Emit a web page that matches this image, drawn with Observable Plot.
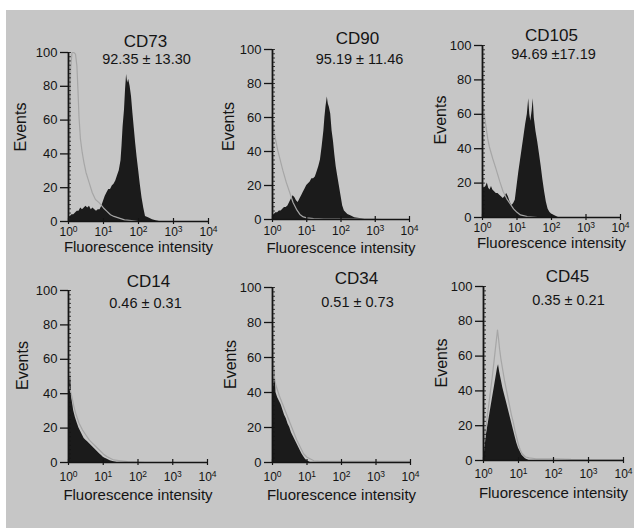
<!DOCTYPE html>
<html><head><meta charset="utf-8">
<script src="https://cdn.jsdelivr.net/npm/d3@7"></script>
<script src="https://cdn.jsdelivr.net/npm/@observablehq/plot@0.6"></script>
<style>
html,body{margin:0;padding:0;background:#fff;}
#page{position:relative;width:634px;height:528px;overflow:hidden;background:#fff;}
#photo{position:absolute;left:6px;top:10px;right:0;bottom:0;background:#c6c6c6;}
#page svg{position:absolute;overflow:visible;}
</style></head><body><div id="page"><div id="photo"></div></div>
<script>
// ---- text ----
const markers = ["CD73", "CD90", "CD105", "CD14", "CD34", "CD45"];
const stats = ["92.35 ± 13.30", "95.19 ± 11.46", "94.69 ±17.19", "0.46 ± 0.31", "0.51 ± 0.73", "0.35 ± 0.21"];
const yLabel = "Events";
const xLabel = "Fluorescence intensity";
const yTicks = [0, 20, 40, 60, 80, 100];
const yMinorTicks = d3.range(0, 100.1, 2.5);
const xTickValues = [1, 10, 100, 1000, 10000];
const xTickLabels = ["10⁰", "10¹", "10²", "10³", "10⁴"];
const superDigits = "⁰¹²³⁴⁵⁶⁷⁸⁹";

// ---- histograms: [log10 intensity (decade), events] ----
const cd73Stain = [[0,3],[0.05,3],[0.1,4],[0.15,4],[0.2,5],[0.25,6],[0.3,6],[0.35,8],[0.4,7],[0.45,8],[0.5,9],[0.55,8],[0.6,9],[0.65,7],[0.7,8],[0.75,7],[0.8,6],[0.85,7],[0.9,7],[0.95,9],[1.0,12],[1.05,15],[1.1,17],[1.15,19],[1.2,19],[1.25,21],[1.3,22],[1.35,24],[1.4,27],[1.45,30],[1.5,36],[1.53,45],[1.56,56],[1.6,66],[1.63,78],[1.66,87],[1.69,82],[1.72,84],[1.76,80],[1.8,74],[1.84,64],[1.88,55],[1.92,46],[1.96,38],[2.0,31],[2.05,22],[2.1,14],[2.15,8],[2.2,3],[2.3,2],[2.4,1],[2.5,0.5],[2.6,0]];
const cd73Isotype = [[0,0],[0.03,40],[0.06,90],[0.1,100],[0.15,100],[0.2,99],[0.24,92],[0.27,78],[0.3,62],[0.34,49],[0.39,41],[0.44,35],[0.5,29],[0.59,23],[0.68,17],[0.77,13],[0.88,11],[1.0,8],[1.1,6],[1.2,4],[1.3,3],[1.45,2],[1.6,1],[1.8,0.5],[2.0,0]];

const cd90Stain = [[0,2],[0.05,3],[0.1,4],[0.15,4],[0.2,5],[0.25,5],[0.3,6],[0.35,7],[0.4,7],[0.45,8],[0.5,10],[0.55,12],[0.6,14],[0.65,13],[0.7,11],[0.75,10],[0.8,12],[0.85,14],[0.9,16],[0.95,18],[1.0,20],[1.05,21],[1.1,22],[1.15,24],[1.2,24],[1.25,25],[1.3,28],[1.35,31],[1.4,35],[1.45,43],[1.5,52],[1.53,60],[1.56,66],[1.6,72],[1.63,68],[1.66,66],[1.7,62],[1.74,52],[1.78,46],[1.82,38],[1.86,31],[1.9,26],[1.95,20],[2.0,14],[2.05,8],[2.1,5],[2.2,3],[2.3,2],[2.4,1],[2.6,0.5],[2.7,0]];
const cd90Isotype = [[0,60],[0.04,52],[0.1,46],[0.15,41],[0.2,37],[0.3,29],[0.4,22],[0.5,16],[0.6,10],[0.7,6],[0.8,3],[0.9,1.5],[1.0,1],[1.2,0.5],[1.5,0.3],[2.0,0.3],[2.5,0.3],[3.0,0.2],[3.2,0]];

const cd105Stain = [[0,17],[0.05,17],[0.1,18],[0.14,20],[0.18,17],[0.22,16],[0.26,18],[0.3,16],[0.35,15],[0.4,14],[0.45,14],[0.5,13],[0.55,12],[0.6,11],[0.65,12],[0.7,14],[0.75,12],[0.8,9],[0.85,7],[0.9,8],[0.95,10],[1.0,18],[1.05,26],[1.1,33],[1.15,40],[1.2,47],[1.25,54],[1.3,60],[1.34,69],[1.37,60],[1.4,56],[1.44,62],[1.47,69],[1.5,58],[1.55,50],[1.6,44],[1.65,37],[1.7,30],[1.75,22],[1.8,15],[1.85,9],[1.9,5],[1.95,3],[2.0,2],[2.1,1],[2.2,0]];
const cd105Isotype = [[0,68],[0.05,60],[0.1,53],[0.15,46],[0.2,41],[0.3,34],[0.38,29],[0.5,21],[0.6,15],[0.7,11],[0.8,8],[0.9,5],[1.0,3],[1.1,1.5],[1.3,0.5],[1.6,0]];

const cd14Stain = [[0,40],[0.03,44],[0.06,52],[0.09,38],[0.12,34],[0.15,30],[0.2,26],[0.25,23],[0.3,20],[0.35,18],[0.4,16],[0.45,14],[0.5,13],[0.55,12],[0.6,11],[0.65,10],[0.7,9],[0.75,8],[0.8,7],[0.85,6],[0.9,5],[0.95,4],[1.0,3],[1.05,2.5],[1.1,2],[1.2,1],[1.3,0.5],[1.4,0]];
const cd14Isotype = [[0,45],[0.05,42],[0.1,38],[0.15,33],[0.2,29],[0.3,23],[0.4,19],[0.5,16],[0.6,13],[0.7,11],[0.8,9],[0.9,7],[1.0,5],[1.1,3.5],[1.2,2.5],[1.3,1.5],[1.5,1],[1.7,0.5],[2.0,0.3],[2.2,0]];

const cd34Stain = [[0,41],[0.04,44],[0.07,54],[0.1,40],[0.15,37],[0.2,35],[0.25,33],[0.3,30],[0.35,27],[0.4,25],[0.45,22],[0.5,20],[0.55,17],[0.6,15],[0.65,13],[0.7,11],[0.75,9],[0.8,7],[0.85,5],[0.9,3.5],[0.95,2],[1.0,1],[1.1,0]];
const cd34Isotype = [[0,68],[0.03,55],[0.06,48],[0.1,44],[0.15,41],[0.2,38],[0.3,33],[0.4,28],[0.5,23],[0.6,18],[0.7,13],[0.8,9],[0.9,5],[1.0,3],[1.1,2],[1.2,1],[1.4,0.7],[2.0,0.7],[3.0,0.7],[4.0,0.7]];

const cd45Stain = [[0,4],[0.05,10],[0.1,17],[0.15,23],[0.2,29],[0.25,35],[0.3,41],[0.35,47],[0.4,53],[0.43,55],[0.46,51],[0.5,47],[0.55,42],[0.6,38],[0.65,34],[0.7,30],[0.75,26],[0.8,22],[0.85,18],[0.9,14],[0.95,10],[1.0,7],[1.05,5],[1.1,3],[1.2,1],[1.3,0]];
const cd45Isotype = [[0,5],[0.05,15],[0.1,24],[0.15,32],[0.2,40],[0.25,48],[0.3,57],[0.35,66],[0.4,75],[0.43,70],[0.46,64],[0.5,58],[0.55,52],[0.6,46],[0.65,41],[0.7,36],[0.75,31],[0.8,26],[0.85,22],[0.9,17],[0.95,13],[1.0,9],[1.05,6],[1.1,4],[1.2,2],[1.3,1.5],[1.5,1],[1.8,1],[2.1,1],[2.5,0.6],[3.0,0.4],[4.0,0.4]];

const stainSeries = [cd73Stain, cd90Stain, cd105Stain, cd14Stain, cd34Stain, cd45Stain];
const isotypeSeries = [cd73Isotype, cd90Isotype, cd105Isotype, cd14Isotype, cd34Isotype, cd45Isotype];

// ---- layout (page pixels of each plot frame and text offsets) ----
const layout = [
  {l:68,  t:52,  r:208, b:221, titleDx:77, titleDy:-10.5, valueDx:78, valueDy:7,    evDx:-48, evDy:-10,  pad:3,   xlDy:26},
  {l:272, t:49,  r:409, b:219, titleDx:85, titleDy:-10.5, valueDx:87, valueDy:10,   evDx:-44, evDy:-8,   pad:4,   xlDy:29},
  {l:482, t:45,  r:620, b:217, titleDx:69, titleDy:-9.5,  valueDx:71, valueDy:8.5,  evDx:-42, evDy:-11.5,pad:3,   xlDy:26},
  {l:68,  t:290, r:207, b:462, titleDx:80, titleDy:-8.5,  valueDx:77, valueDy:12.5, evDx:-46, evDy:-11,  pad:6.5, xlDy:33},
  {l:272, t:287, r:410, b:462, titleDx:84, titleDy:-8.5,  valueDx:85, valueDy:14.5, evDx:-42, evDy:-10.5,pad:7,   xlDy:33},
  {l:483, t:286, r:623, b:460, titleDx:84, titleDy:-9.5,  valueDx:85, valueDy:14,   evDx:-42, evDy:-10.5,pad:6,   xlDy:33}
];
const M = {left:60, right:18, top:30, bottom:48};
const ink = "#141414";
const font = "'Liberation Sans', Arial, Helvetica, sans-serif";

const page = document.getElementById("page");
markers.forEach((name, i) => {
  const L = layout[i];
  const toRows = s => s.map(([d, v]) => ({x: 10 ** d, v}));
  const stain = toRows(stainSeries[i]);
  const iso = toRows(isotypeSeries[i]);
  const fw = L.r - L.l, fh = L.b - L.t;
  const chart = Plot.plot({
    width: M.left + fw + M.right,
    height: M.top + fh + M.bottom,
    marginLeft: M.left, marginRight: M.right, marginTop: M.top, marginBottom: M.bottom,
    x: {type: "log", domain: [1, 10000]},
    y: {domain: [0, 100]},
    style: {fontFamily: font, color: ink, background: "transparent", overflow: "visible"},
    marks: [
      Plot.areaY(stain, {x: "x", y: "v", fill: "#1b1b1b", curve: "linear"}),
      Plot.lineY(iso, {x: "x", y: "v", stroke: "#a6a6a6", strokeWidth: 1.2, curve: "linear"}),
      Plot.axisY(yTicks, {anchor: "left", tickSize: 8, tickPadding: 3, fontSize: 13, label: null, stroke: ink, strokeWidth: 1.3}),
      Plot.axisY(yMinorTicks, {anchor: "left", tickSize: -3, tickFormat: () => "", label: null, stroke: ink, strokeWidth: 0.8}),
      Plot.axisX(xTickValues, {anchor: "bottom", tickSize: 6, dy: -3, tickPadding: L.pad, fontSize: 12, label: null,
        tickFormat: d => xTickLabels[xTickValues.indexOf(d)], stroke: ink, strokeWidth: 1.2, ariaLabel: "x-axis"}),
      Plot.ruleX([1], {y1: 0, y2: 100, stroke: ink, strokeWidth: 1.8}),
      Plot.ruleY([0], {x1: 1, x2: 10000, stroke: ink, strokeWidth: 1.6}),
      Plot.text([name], {frameAnchor: "top-left", dx: L.titleDx, dy: L.titleDy, fontSize: 17, textAnchor: "middle", lineAnchor: "middle", fill: ink}),
      Plot.text([stats[i]], {frameAnchor: "top-left", dx: L.valueDx, dy: L.valueDy, fontSize: 14.5, textAnchor: "middle", lineAnchor: "middle", fill: ink}),
      Plot.text([yLabel], {frameAnchor: "left", dx: L.evDx, dy: L.evDy, rotate: -90, fontSize: 16, textAnchor: "middle", lineAnchor: "middle", fill: ink}),
      Plot.text([xLabel], {frameAnchor: "bottom", dy: L.xlDy, fontSize: 15, textAnchor: "middle", lineAnchor: "middle", fill: ink})
    ]
  });
  // render the decade exponents as raised superscripts
  chart.querySelectorAll("text").forEach(t => {
    const s = t.textContent;
    if (xTickLabels.includes(s)) {
      const exp = superDigits.indexOf(s.slice(-1));
      t.textContent = s.slice(0, -1);
      const sup = document.createElementNS("http://www.w3.org/2000/svg", "tspan");
      sup.setAttribute("dy", "-0.42em");
      sup.setAttribute("font-size", "8.5");
      sup.textContent = String(exp);
      t.appendChild(sup);
    }
  });
  chart.style.left = (L.l - M.left) + "px";
  chart.style.top = (L.t - M.top) + "px";
  page.appendChild(chart);
});
</script>
</body></html>
